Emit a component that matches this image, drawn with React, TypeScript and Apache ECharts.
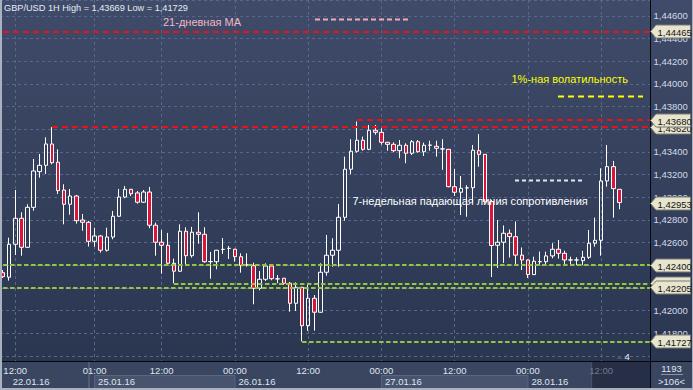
import React, { useEffect, useRef } from 'react';
import * as echarts from 'echarts';

// ---------- time slots (1H bars) ----------
const dayNames = ['22.01.16', '25.01.16', '26.01.16', '27.01.16', '28.01.16'];
const dayFirstHour = [10, 0, 0, 0, 0];
const dayLastHour = [23, 23, 23, 23, 20];
const categories: string[] = [];
dayNames.forEach((d, di) => {
  for (let h = dayFirstHour[di]; h <= dayLastHour[di]; h++) {
    categories.push(d + ' ' + String(h).padStart(2, '0') + ':00');
  }
});

// tick label positions (slot indices)
const timeTickIdx = [2, 15, 26, 38, 50, 62, 74, 86, 98];
const dateTickIdx = [1, 15, 38, 62, 86];
const dimTimeTickIdx = [98];

// ---------- OHLC ----------
const opens = [
  1.42334, 1.42294, 1.42585, 1.42814, 1.42558, 1.42911, 1.43226, 1.43282, 1.4347, 1.43309,
  1.43064, 1.42938, 1.43011, 1.42799, 1.42779, 1.42611, 1.42658, 1.42532, 1.42649, 1.42832,
  1.43002, 1.4307, 1.43038, 1.42956, 1.43046, 1.42753, 1.42603, 1.42576, 1.42417, 1.42347,
  1.427, 1.42484, 1.42691, 1.42673, 1.42431, 1.42431, 1.42539, 1.42548, 1.42541, 1.42475,
  1.42402, 1.42396, 1.42196, 1.42276, 1.42393, 1.42279, 1.42285, 1.42241, 1.42064, 1.42205,
  1.41866, 1.42108, 1.41985, 1.42338, 1.42488, 1.42532, 1.42823, 1.43247, 1.43406, 1.43503,
  1.43423, 1.43591, 1.43573, 1.43485, 1.43467, 1.43411, 1.43459, 1.43388, 1.4349, 1.43402,
  1.43459, 1.4345, 1.43426, 1.43423, 1.43093, 1.43044, 1.43082, 1.43084, 1.43411, 1.43379,
  1.42961, 1.42576, 1.42603, 1.42682, 1.42652, 1.42489, 1.42446, 1.42317, 1.42431, 1.42431,
  1.42482, 1.42541, 1.42505, 1.42446, 1.42446, 1.4244, 1.4247, 1.42594, 1.4262, 1.43144,
  1.4327, 1.4307,
];
const highs = [
  1.42358, 1.42643, 1.43064, 1.42867, 1.42938, 1.43338, 1.43382, 1.43529, 1.4362, 1.43423,
  1.43114, 1.43073, 1.4302, 1.42852, 1.42791, 1.42731, 1.42667, 1.42731, 1.42879, 1.43073,
  1.43099, 1.43073, 1.43055, 1.43064, 1.43091, 1.42776, 1.42711, 1.42685, 1.42458, 1.42761,
  1.42735, 1.42738, 1.42867, 1.42735, 1.42517, 1.42535, 1.4264, 1.4257, 1.42545, 1.42505,
  1.42505, 1.42422, 1.42349, 1.42417, 1.42402, 1.42314, 1.42287, 1.42252, 1.42249, 1.4221,
  1.42226, 1.42137, 1.42417, 1.42667, 1.42638, 1.42941, 1.43358, 1.43512, 1.43669, 1.43535,
  1.43638, 1.43638, 1.43609, 1.43488, 1.43485, 1.43505, 1.43476, 1.43505, 1.43505, 1.43482,
  1.43499, 1.43499, 1.43512, 1.43425, 1.43249, 1.43188, 1.43106, 1.43461, 1.43558, 1.43382,
  1.42976, 1.42799, 1.42751, 1.42715, 1.42786, 1.42557, 1.4245, 1.42475, 1.4252, 1.4252,
  1.42594, 1.42623, 1.42528, 1.42475, 1.4247, 1.42526, 1.42711, 1.4282, 1.43256, 1.43461,
  1.4332, 1.43072,
];
const lows = [
  1.42287, 1.42264, 1.4249, 1.42484, 1.42552, 1.42881, 1.43173, 1.43205, 1.43291, 1.43029,
  1.42761, 1.42846, 1.42767, 1.42705, 1.42564, 1.42564, 1.42511, 1.4252, 1.42629, 1.42828,
  1.42991, 1.43011, 1.42943, 1.42949, 1.42726, 1.42484, 1.42325, 1.42396, 1.4224, 1.4234,
  1.42396, 1.42467, 1.4259, 1.42422, 1.42281, 1.42364, 1.425, 1.42455, 1.42431, 1.42334,
  1.42387, 1.42055, 1.42179, 1.42261, 1.42267, 1.42241, 1.42226, 1.4199, 1.41996, 1.41727,
  1.4182, 1.41822, 1.4198, 1.42308, 1.42387, 1.42387, 1.42793, 1.43203, 1.43393, 1.43411,
  1.43415, 1.43552, 1.43464, 1.43411, 1.43397, 1.43344, 1.433, 1.43373, 1.43393, 1.43364,
  1.43411, 1.43358, 1.43241, 1.43088, 1.43011, 1.42843, 1.42828, 1.42952, 1.4327, 1.42958,
  1.42296, 1.42376, 1.4242, 1.42468, 1.42402, 1.42358, 1.42287, 1.42314, 1.424, 1.424,
  1.42461, 1.42458, 1.424, 1.424, 1.42402, 1.42402, 1.42455, 1.42564, 1.42484, 1.43093,
  1.4282, 1.42894,
];
const closes = [
  1.42299, 1.42585, 1.42814, 1.42558, 1.42911, 1.43232, 1.43282, 1.4347, 1.43305, 1.43058,
  1.42938, 1.43011, 1.42793, 1.42779, 1.42611, 1.42658, 1.42532, 1.42649, 1.42832, 1.43002,
  1.4307, 1.43031, 1.42956, 1.43046, 1.42753, 1.42603, 1.42576, 1.42417, 1.42347, 1.427,
  1.42484, 1.42691, 1.42673, 1.42431, 1.42433, 1.42532, 1.4254, 1.42549, 1.42475, 1.42396,
  1.42403, 1.42196, 1.42276, 1.42393, 1.42281, 1.4228, 1.42241, 1.42064, 1.42205, 1.41866,
  1.42108, 1.41985, 1.42338, 1.42488, 1.42532, 1.42823, 1.43247, 1.43406, 1.43503, 1.43423,
  1.43591, 1.43573, 1.43485, 1.43467, 1.43411, 1.43459, 1.43388, 1.4349, 1.43402, 1.43459,
  1.4346, 1.43432, 1.43427, 1.43093, 1.43044, 1.43079, 1.43083, 1.43415, 1.43379, 1.42961,
  1.42574, 1.42603, 1.42682, 1.42652, 1.42489, 1.42446, 1.42317, 1.42435, 1.42432, 1.42482,
  1.42541, 1.42505, 1.42446, 1.42447, 1.42446, 1.4247, 1.42594, 1.4262, 1.43144, 1.4327,
  1.43076, 1.42953,
];

// ---------- horizontal levels ----------
const levelValues = [1.44465, 1.4362, 1.4368, 1.424, 1.4224, 1.42205, 1.41727];
const levelStartIdx = [0, 8, 58, 0, 28, 0, 49];
const levelKinds = ['red', 'red', 'red', 'green', 'green', 'green', 'green'];

// price tags on the right scale (drawn in this order)
const tagValues = [1.44465, 1.4362, 1.4368, 1.42953, 1.424, 1.4224, 1.42205, 1.41727];

// y scale
const yMin = 1.414;
const yMax = 1.44741;
const yStep = 0.002;
const yLabelLow = 1.417;
const yLabelHigh = 1.4465;

const TITLE = 'GBP/USD 1H High = 1,43669 Low = 1,41729';
const NOTE_MA = '21-дневная MA';
const NOTE_VOL = '1%-ная волатильность';
const NOTE_RES = '7-недельная падающая линия сопротивления';
const BAR_COUNT = '1193';
const VISIBLE_COUNT = '>106<';

const FONT = '"Liberation Sans", Arial, sans-serif';
const RED = '#e8121b';
const GREEN = '#94c83c';
const GRIDC = '#56678a';
const fmt = (v: number) => v.toFixed(5).replace('.', ',');

export default function App() {
  const ref = useRef<HTMLDivElement>(null);
  useEffect(() => {
    const chart = echarts.init(ref.current!, null, { renderer: 'svg' });
    const candleData = opens.map((o, i) => [o, closes[i], lows[i], highs[i]]);
    const lastSlot = categories.length - 1;
    const axisLabelBase = { fontSize: 9.5, fontFamily: FONT, color: '#dfe5ef' };

    chart.setOption({
      animation: false,
      backgroundColor: '#323d58',
      grid: { left: 0, right: 40, top: 0, bottom: 11.5, containLabel: false },
      xAxis: [
        {
          type: 'category', data: categories, boundaryGap: true, z: 0,
          axisLine: { show: false }, axisTick: { show: false }, axisLabel: { show: false },
          splitLine: {
            show: true, alignWithLabel: true,
            interval: (i: number) => timeTickIdx.includes(i),
            lineStyle: { color: GRIDC, type: [3, 3], width: 1 },
          },
        },
        {
          type: 'category', data: categories, boundaryGap: true, position: 'bottom', offset: -16.5, z: 100,
          axisLine: { show: false }, axisTick: { show: false }, splitLine: { show: false },
          axisLabel: {
            ...axisLabelBase, margin: 3,
            interval: (i: number) => timeTickIdx.includes(i),
            formatter: (v: string, i: number) => {
              const t = v.split(' ')[1];
              return dimTimeTickIdx.includes(i) ? '{dim|' + t + '}' : t;
            },
            rich: { dim: { color: '#6f7993', fontSize: 9.5, fontFamily: FONT } },
          },
        },
        {
          type: 'category', data: categories, boundaryGap: true, position: 'bottom', offset: -16.5, z: 100,
          axisLine: { show: false }, axisTick: { show: false }, splitLine: { show: false },
          axisLabel: {
            ...axisLabelBase, margin: 14, align: 'left', padding: [0, 0, 0, 3.5],
            interval: (i: number) => dateTickIdx.includes(i),
            formatter: (v: string) => v.split(' ')[0],
          },
        },
      ],
      yAxis: {
        type: 'value', position: 'right', min: yMin, max: yMax, interval: yStep,
        axisLine: { show: false }, axisTick: { show: false },
        splitLine: { show: true, lineStyle: { color: GRIDC, type: [3, 3], width: 1 } },
        axisLabel: {
          fontSize: 9.5, fontFamily: FONT, color: '#d3dae8', margin: 0.5,
          formatter: (v: number) => (v < yLabelLow || v > yLabelHigh ? '' : fmt(v)),
        },
      },
      series: [
        {
          type: 'candlestick', xAxisIndex: 0, yAxisIndex: 0, silent: true,
          data: candleData, barWidth: 4,
          itemStyle: {
            color: 'rgba(0,0,0,0)', color0: '#dc143c',
            borderColor: '#ffffff', borderColor0: '#ffffff', borderWidth: 1,
          },
          markLine: {
            silent: true, symbol: ['none', 'none'], animation: false,
            label: { show: false },
            data: levelValues.map((v, i) => [
              {
                coord: [levelStartIdx[i], v],
                lineStyle: levelKinds[i] === 'red'
                  ? { color: RED, type: [6, 4], width: 2 }
                  : { color: GREEN, type: [4.5, 2.5], width: 2 },
              },
              { coord: [lastSlot, v] },
            ]),
          },
        },
      ],
    });

    const yPx = (v: number) => chart.convertToPixel({ yAxisIndex: 0 }, v) as number;
    const xPx = (i: number) => chart.convertToPixel({ xAxisIndex: 0 }, i) as number;

    const txt = (text: string, x: number, y: number, fill: string, size: number, z = 65, align = 'left') => ({
      type: 'text', x, y, z,
      style: {
        text, fill, fontSize: size, fontFamily: FONT,
        align, verticalAlign: 'middle', textAlign: align, textVerticalAlign: 'middle',
      },
    });
    const dline = (x1: number, y1: number, x2: number, y2: number, stroke: string, w: number, dash: any, z = 65) => ({
      type: 'line', z, shape: { x1, y1, x2, y2 }, style: { stroke, lineWidth: w, lineDash: dash },
    });

    const els: any[] = [];
    // backgrounds
    els.push({
      type: 'rect', z: -100, shape: { x: 0, y: 0, width: 693, height: 390 },
      style: {
        fill: new echarts.graphic.LinearGradient(0, 0, 0, 1, [
          { offset: 0, color: '#3f4b68' },
          { offset: 1, color: '#29344f' },
        ]),
      },
    });
    // bottom strip
    els.push({ type: 'rect', z: 50, shape: { x: 0, y: 362, width: 693, height: 28 }, style: { fill: '#3a4560' } });
    const b15 = xPx(15), b38 = xPx(38), b62 = xPx(62), b86 = xPx(86);
    els.push({ type: 'rect', z: 51, shape: { x: b15, y: 375.5, width: b38 - b15, height: 13 }, style: { fill: '#48536d', stroke: '#5a6581', lineWidth: 1 } });
    els.push({ type: 'rect', z: 51, shape: { x: b62, y: 375.5, width: b86 - b62, height: 13 }, style: { fill: '#48536d', stroke: '#5a6581', lineWidth: 1 } });
    els.push(dline(xPx(14) + 0.5, 362, xPx(14) + 0.5, 390, '#69748f', 1, null, 52));
    const fx = xPx(98) - 10;
    els.push({ type: 'rect', z: 52, shape: { x: fx, y: 362, width: 650 - fx, height: 28 }, style: { fill: '#262f45' } });
    els.push(dline(fx + 0.5, 362, fx + 0.5, 390, '#4c5671', 1, null, 53));
    // bottom-right counter box
    els.push(txt(BAR_COUNT, 671.5, 368.5, '#dfe5ef', 9.5, 66, 'center'));
    els.push(dline(661, 374.5, 683, 374.5, '#8a93a8', 1, null, 66));
    els.push(txt(VISIBLE_COUNT, 671.5, 381.5, '#dfe5ef', 9.5, 66, 'center'));
    // separators
    els.push(dline(650.5, 0, 650.5, 390, '#05070c', 1, null, 60));
    els.push(dline(0, 361.5, 693, 361.5, '#05070c', 1, null, 60));
    // outer border
    els.push({ type: 'rect', z: 61, shape: { x: 0, y: 0, width: 2, height: 390 }, style: { fill: '#aab1be' } });
    els.push({ type: 'rect', z: 61, shape: { x: 0, y: 388, width: 693, height: 2 }, style: { fill: '#aab1be' } });
    els.push({ type: 'rect', z: 61, shape: { x: 692, y: 0, width: 1, height: 390 }, style: { fill: '#aab1be' } });

    // notes
    els.push(txt(TITLE, 4, 8, '#e6ecf6', 9.2));
    els.push(txt(NOTE_MA, 163, 22, '#f3b6c5', 11));
    els.push(dline(315, 19.5, 411, 19.5, '#f3a9bb', 2, [5, 3]));
    els.push(txt(NOTE_VOL, 511.5, 78.5, '#ffff00', 11));
    els.push(dline(558, 96.5, 643, 96.5, '#ffff00', 2, [6, 4]));
    els.push(txt(NOTE_RES, 352.5, 201, '#ffffff', 11, 66));
    els.push(dline(515, 180.5, 584, 180.5, '#e6e6e6', 2, [4, 3]));
    // small marker "4"
    els.push({ type: 'polygon', z: 65, shape: { points: [[616.5, 359], [619.5, 355.5], [622.5, 359]] }, style: { fill: '#4b5366' } });
    els.push(txt('4', 624.5, 356.5, '#e6ecf6', 9.5));

    // price tags
    tagValues.forEach((v, i) => {
      const y = Math.round(yPx(v)) + 0.5;
      els.push({
        type: 'polygon', z: 70 + i * 2,
        shape: { points: [[650.5, y], [656, y - 6.5], [690.5, y - 6.5], [690.5, y + 6.5], [656, y + 6.5]] },
        style: { fill: '#e8e5cf', stroke: '#7a7a72', lineWidth: 1 },
      });
      els.push(txt(fmt(v), 657.5, y + 0.5, '#141414', 9.5, 71 + i * 2));
    });

    chart.setOption({ graphic: { elements: els } });
    return () => chart.dispose();
  }, []);

  return (
    <div
      ref={ref}
      style={{ position: 'fixed', left: 0, top: 0, width: 693, height: 390 }}
    />
  );
}
